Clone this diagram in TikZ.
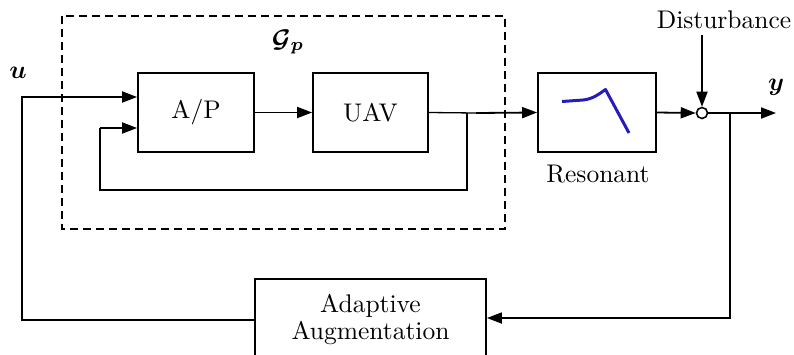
\documentclass[tikz,border=0pt]{standalone}
\usetikzlibrary{arrows.meta}
\usepackage{graphicx}
\usepackage{bm}
\definecolor{curveblue}{RGB}{38,28,190}
% text is set at 10pt and enlarged, keeping the 10pt design weight
\newcommand{\bigtxt}[1]{\scalebox{2.55}{#1}}
\begin{document}
\begin{tikzpicture}[x=1pt,y=-1pt,
  font=\fontsize{10}{12}\selectfont,
  block/.style={draw,line width=1.8pt,minimum height=79pt,inner sep=0pt,align=center},
  wire/.style={line width=1.8pt},
  thinwire/.style={line width=1.3pt},
  arr/.style={-{Triangle[length=15pt,width=11pt]}},
  frame/.style={draw,line width=1.6pt,dash pattern=on 8pt off 5pt}]
\useasboundingbox (0,0) rectangle (794,354);
\clip (0,0) rectangle (794,354);

% subsystem G_p
\draw[frame] (62,16) rectangle (505,229);
\node (gp) at (288,42) {\bigtxt{$\bm{\mathcal{G}_p}$}};

% blocks
\node[block,minimum width=116pt] (ap) at (196,112.5) {\bigtxt{A/P}};
\node[block,minimum width=115pt] (uav) at (370.5,112.5) {\bigtxt{UAV}};
\node[block,minimum width=118pt] (res) at (597,112.5) {};
\node (reslbl) at (598,174) {\bigtxt{Resonant}};
\node[block,minimum width=231pt,minimum height=82pt] (adapt) at (370.5,320)
  {\bigtxt{\begin{tabular}{@{}c@{}}Adaptive\\[-1.3pt]Augmentation\end{tabular}}};

% resonance curve
\draw[curveblue,line width=3pt,line join=round]
  (562,101.5) -- (583,100) .. controls (593,99) and (599,94) .. (605.5,89.5) -- (629,133);

% summing junction
\node[draw,circle,line width=1.6pt,minimum size=11pt,inner sep=0pt] (sum) at (702,113) {};
\node (dist) at (724,20) {\bigtxt{Disturbance}};
\coordinate (dtop) at (702,35);

% signal labels
\node (ulbl) at (18,73) {\bigtxt{$\bm{u}$}};
\node (ylbl) at (776,87) {\bigtxt{$\bm{y}$}};

% helper points
\coordinate (uin) at (22,97);
\coordinate (fbin) at (100,128);
\coordinate (fbl) at (100,190);
\coordinate (br) at (467,113);
\coordinate (brd) at (467,190);
\coordinate (thk) at (476,113);
\coordinate (yout) at (776,113);
\coordinate (ybr) at (730,113);
\coordinate (ybrd) at (730,318);

% connectors
\draw[wire,arr] (adapt.west) -| (uin) -- (ap.west |- uin);
\draw[wire,arr] (ap.east) -- (uav.west);
\draw[thinwire] (uav.east) -- (thk);
\draw[wire,arr] (thk) -- (res.west);
\draw[thinwire] (br) -- (brd) -- (fbl) -- (fbin);
\draw[wire,arr] (fbin) -- (ap.west |- fbin);
\draw[wire,arr] (res.east) -- (sum.west);
\draw[wire,arr] (dtop) -- (sum.north);
\draw[wire,arr] (sum.east) -- (yout);
\draw[wire,arr] (ybr) -- (ybrd) -- (adapt.east |- ybrd);
\end{tikzpicture}
\end{document}
